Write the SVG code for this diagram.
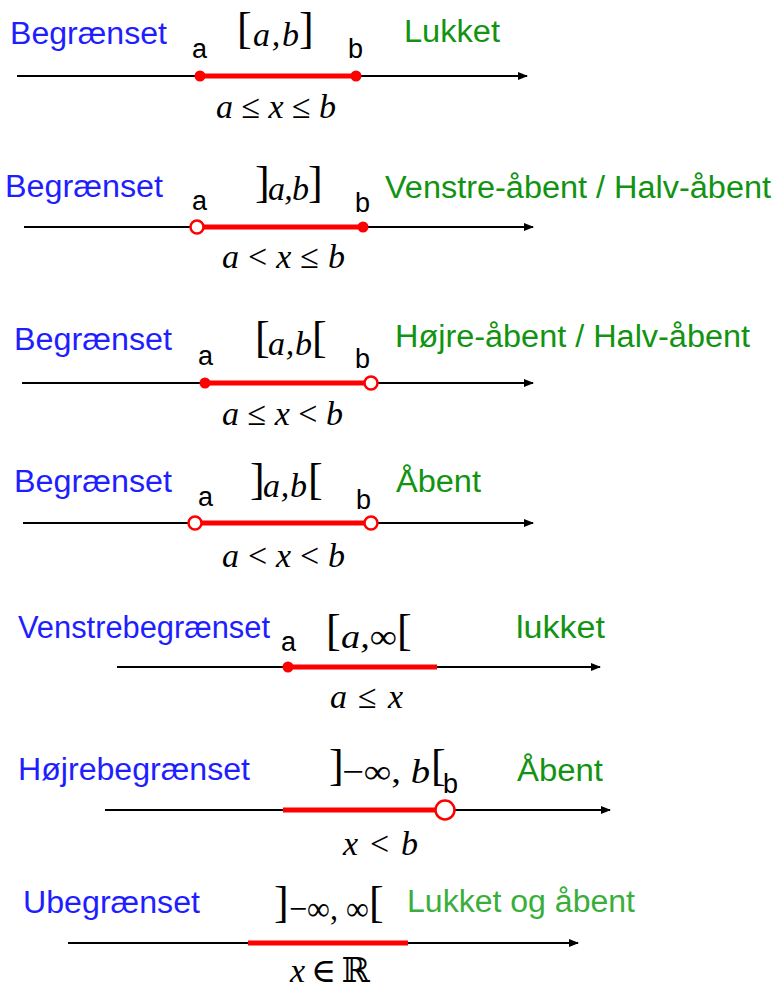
<svg xmlns="http://www.w3.org/2000/svg" width="777" height="988" viewBox="0 0 777 988">
<style>
.lbl{font-family:"Liberation Sans",Arial,sans-serif;font-size:31px}
.blue{fill:#1e1eff}
.green{fill:#129312}
.lgreen{fill:#3aae3a}
.pt{font-family:"Liberation Sans",Arial,sans-serif;font-size:27px;fill:#000}
.m{font-family:"Liberation Serif","DejaVu Serif",serif;font-style:italic;font-size:34px;fill:#000}
.br{font-family:"Liberation Serif","DejaVu Serif",serif;font-size:44px;fill:#000}
.n{font-style:normal}
.axis{stroke:#000;stroke-width:2;fill:none}
.seg{stroke:#ff0000;stroke-width:5;fill:none}
.dot{fill:#ff0000}
.ring{fill:#fff;stroke:#ff0000;stroke-width:2.5}
</style>
<defs>
<marker id="arr" markerWidth="10" markerHeight="8" refX="9" refY="4" orient="auto" markerUnits="userSpaceOnUse">
<path d="M0,0 L10,4 L0,8 Z" fill="#000"/>
</marker>
</defs>
<g id="connectors">
<line class="axis" x1="17" y1="76" x2="527" y2="76" marker-end="url(#arr)"/>
<line class="axis" x1="24" y1="227" x2="533" y2="227" marker-end="url(#arr)"/>
<line class="axis" x1="22" y1="383" x2="533" y2="383" marker-end="url(#arr)"/>
<line class="axis" x1="23" y1="523" x2="533" y2="523" marker-end="url(#arr)"/>
<line class="axis" x1="117" y1="667" x2="600" y2="667" marker-end="url(#arr)"/>
<line class="axis" x1="105" y1="810" x2="610" y2="810" marker-end="url(#arr)"/>
<line class="axis" x1="68" y1="943" x2="578" y2="943" marker-end="url(#arr)"/>
</g>
<g id="row1">
<text class="lbl blue" x="10" y="44" textLength="157" lengthAdjust="spacingAndGlyphs">Begrænset</text>
<text class="lbl green" x="404" y="42" textLength="96" lengthAdjust="spacingAndGlyphs">Lukket</text>
<text class="pt" x="192" y="58">a</text>
<text class="pt" x="348" y="58">b</text>
<text class="br" x="237" y="43">[</text>
<text class="m" x="253" y="46" textLength="46">a,b</text>
<text class="br" x="299" y="43">]</text>
<text class="m" x="216" y="118" textLength="120">a <tspan class="n">≤</tspan> x <tspan class="n">≤</tspan> b</text>
<line class="seg" x1="200" y1="76" x2="356" y2="76"/>
<circle class="dot" cx="200" cy="76" r="5.5"/>
<circle class="dot" cx="356" cy="76" r="5.5"/>
</g>
<g id="row2">
<text class="lbl blue" x="5" y="197" textLength="158" lengthAdjust="spacingAndGlyphs">Begrænset</text>
<text class="lbl green" x="385" y="198" textLength="386" lengthAdjust="spacingAndGlyphs">Venstre-åbent / Halv-åbent</text>
<text class="pt" x="192" y="210">a</text>
<text class="pt" x="355" y="212">b</text>
<text class="br" x="255" y="197">]</text>
<text class="m" x="268" y="200" textLength="41">a,b</text>
<text class="br" x="308" y="197">]</text>
<text class="m" x="222" y="268" textLength="123">a <tspan class="n">&lt;</tspan> x <tspan class="n">≤</tspan> b</text>
<line class="seg" x1="197" y1="227" x2="363" y2="227"/>
<circle class="ring" cx="197" cy="227" r="6.5"/>
<circle class="dot" cx="363" cy="227" r="5.5"/>
</g>
<g id="row3">
<text class="lbl blue" x="14" y="350" textLength="158" lengthAdjust="spacingAndGlyphs">Begrænset</text>
<text class="lbl green" x="395" y="347" textLength="355" lengthAdjust="spacingAndGlyphs">Højre-åbent / Halv-åbent</text>
<text class="pt" x="198" y="365">a</text>
<text class="pt" x="355" y="368">b</text>
<text class="br" x="255" y="352">[</text>
<text class="m" x="268" y="355" textLength="44">a,b</text>
<text class="br" x="312" y="352">[</text>
<text class="m" x="222" y="425" textLength="121">a <tspan class="n">≤</tspan> x <tspan class="n">&lt;</tspan> b</text>
<line class="seg" x1="205" y1="383" x2="371" y2="383"/>
<circle class="dot" cx="205" cy="383" r="5.5"/>
<circle class="ring" cx="371" cy="383" r="6.5"/>
</g>
<g id="row4">
<text class="lbl blue" x="14" y="492" textLength="158" lengthAdjust="spacingAndGlyphs">Begrænset</text>
<text class="lbl green" x="396" y="492" textLength="85" lengthAdjust="spacingAndGlyphs">Åbent</text>
<text class="pt" x="198" y="506">a</text>
<text class="pt" x="356" y="509">b</text>
<text class="br" x="250" y="494">]</text>
<text class="m" x="263" y="497" textLength="44">a,b</text>
<text class="br" x="308" y="494">[</text>
<text class="m" x="222" y="567" textLength="123">a <tspan class="n">&lt;</tspan> x <tspan class="n">&lt;</tspan> b</text>
<line class="seg" x1="195" y1="523" x2="371" y2="523"/>
<circle class="ring" cx="195" cy="523" r="6.5"/>
<circle class="ring" cx="371" cy="523" r="6.5"/>
</g>
<g id="row5">
<text class="lbl blue" x="18" y="638" textLength="252" lengthAdjust="spacingAndGlyphs">Venstrebegrænset</text>
<text class="lbl green" x="516" y="638" textLength="89" lengthAdjust="spacingAndGlyphs">lukket</text>
<text class="pt" x="281" y="651">a</text>
<text class="br" x="326" y="645">[</text>
<text class="m" x="341" y="648" textLength="56" lengthAdjust="spacingAndGlyphs">a,<tspan class="n">∞</tspan></text>
<text class="br" x="397" y="645">[</text>
<text class="m" x="330" y="708" textLength="73">a <tspan class="n">≤</tspan> x</text>
<line class="seg" x1="288" y1="667" x2="437" y2="667"/>
<circle class="dot" cx="288" cy="667" r="5.5"/>
</g>
<g id="row6">
<text class="lbl blue" x="18" y="780" textLength="232" lengthAdjust="spacingAndGlyphs">Højrebegrænset</text>
<text class="lbl green" x="517" y="781" textLength="86" lengthAdjust="spacingAndGlyphs">Åbent</text>
<text class="br" x="329" y="780">]</text>
<text class="m" x="342" y="783" textLength="88" lengthAdjust="spacingAndGlyphs"><tspan class="n">−∞, </tspan>b</text>
<text class="br" x="431" y="780">[</text>
<text class="pt" x="443" y="793">b</text>
<text class="m" x="343" y="855" textLength="75">x <tspan class="n">&lt;</tspan> b</text>
<line class="seg" x1="283" y1="810" x2="445" y2="810"/>
<circle class="ring" cx="445" cy="810" r="9.5"/>
</g>
<g id="row7">
<text class="lbl blue" x="23" y="913" textLength="177" lengthAdjust="spacingAndGlyphs">Ubegrænset</text>
<text class="lbl lgreen" x="407" y="912" textLength="228" lengthAdjust="spacingAndGlyphs">Lukket og åbent</text>
<text class="br" x="274" y="917">]</text>
<text class="m n" x="289" y="920" textLength="80" lengthAdjust="spacingAndGlyphs">−∞, ∞</text>
<text class="br" x="369" y="917">[</text>
<text class="m" x="290" y="982" textLength="80">x <tspan class="n">∈</tspan> <tspan class="n" font-family="DejaVu Serif">ℝ</tspan></text>
<line class="seg" x1="248" y1="943" x2="408" y2="943"/>
</g>
</svg>
